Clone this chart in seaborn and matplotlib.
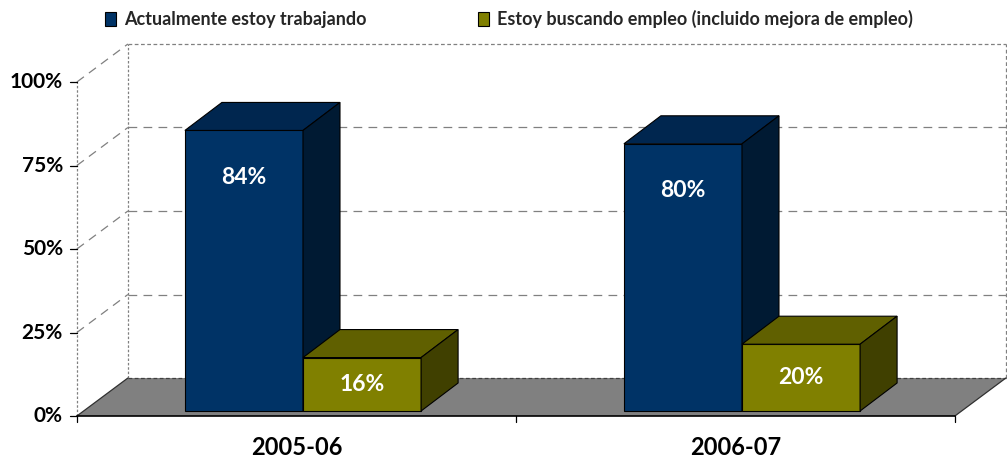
import numpy as np
import pandas as pd
import matplotlib
matplotlib.use('Agg')
import matplotlib.pyplot as plt
from matplotlib.patches import Polygon, Patch
import seaborn as sns

# data
periods = ['2005-06', '2006-07']
series_names = ['Actualmente estoy trabajando',
                'Estoy buscando empleo (incluido mejora de empleo)']
trabajando = [84, 80]
buscando = [16, 20]
y_ticks = [0, 25, 50, 75, 100]
y_tick_labels = ['0%', '25%', '50%', '75%', '100%']

front_colors = ['#003366', '#808000']
top_colors = ['#00264f', '#606000']
side_colors = ['#001a33', '#404000']

df = pd.DataFrame({
    'periodo': periods * 2,
    'serie': [series_names[0]] * 2 + [series_names[1]] * 2,
    'valor': trabajando + buscando,
})

sns.set_theme(style='white')
plt.rcParams['font.family'] = ['Lato', 'DejaVu Sans']
plt.rcParams['font.weight'] = 'bold'

W, H = 1007, 461
fig = plt.figure(figsize=(W / 100, H / 100), dpi=100)
ax = fig.add_axes([0, 0, 1, 1])

sns.barplot(data=df, x='periodo', y='valor', hue='serie', palette=front_colors,
            saturation=1, width=0.538, edgecolor='black', linewidth=0.8,
            legend=False, ax=ax)

# pixel geometry of the bar front plane
PX_X = 439.0     # px per category
PX_Y = 3.34      # px per percent
X0_PX, Y0_PX = 303.0, 411.0
ax.set_xlim(-X0_PX / PX_X, (W - X0_PX) / PX_X)
ax.set_ylim((Y0_PX - H) / PX_Y, Y0_PX / PX_Y)
ax.axis('off')


def px(dx, dy):
    # convert a pixel offset (right, up) into data units
    return dx / PX_X, dy / PX_Y


fx, fy = px(-6.6, -5)      # floor front edge relative to bar plane
bx, by = px(44.4, 33)      # back wall relative to bar plane
ddx, ddy = px(37, 28)      # bar depth

xl, xr = -0.5, 1.5
grid_kw = dict(color='#808080', lw=0.9, zorder=1.5)

# floor
floor = Polygon([(xl + fx, fy), (xr + fx, fy), (xr + bx, by), (xl + bx, by)],
                closed=True, facecolor='#808080', edgecolor='none', zorder=1)
ax.add_patch(floor)
ax.plot([xl + bx, xr + bx], [by, by], color='#404040', lw=0.9, ls=(0, (3, 2)), zorder=1.6)
ax.plot([xl + fx, xl + bx], [fy, by], color='#303030', lw=0.9, zorder=1.6)
ax.plot([xr + fx, xr + bx], [fy, by], color='#303030', lw=0.9, zorder=1.6)
ax.plot([xl + fx, xr + fx], [fy, fy], color='black', lw=1.2, zorder=10)

# back wall and left wall gridlines
for v in y_ticks[1:]:
    ls = (0, (3, 2)) if v == 100 else (0, (7, 5))
    ax.plot([xl + bx, xr + bx], [v + by, v + by], ls=ls, **grid_kw)
    ax.plot([xl + fx, xl + bx], [v + fy, v + by], ls=(0, (7, 5)), **grid_kw)
ax.plot([xr + bx, xr + bx], [by, 100 + by], ls=(0, (3, 2)), **grid_kw)
ax.plot([xl + bx, xl + bx], [by, 100 + by], ls=(0, (2, 1.5)), **grid_kw)
ax.plot([xl + fx, xl + fx], [fy, 100 + fy], ls=(0, (2, 1.5)), **grid_kw)

# y ticks and labels on the front left edge
tx, _ = px(7, 0)
for v, lab in zip(y_ticks, y_tick_labels):
    ax.plot([xl + fx - tx, xl + fx], [v + fy, v + fy], color='black', lw=0.9, zorder=10)
    ax.text(xl + fx - px(14, 0)[0], v + fy, lab, ha='right', va='center',
            fontsize=15, fontweight='bold', color='black')

# x ticks and category labels
_, tlen = px(0, 6)
for x in [xl, 0.5, xr]:
    ax.plot([x + fx, x + fx], [fy, fy - tlen], color='black', lw=0.9, zorder=10)
for i, lab in enumerate(periods):
    ax.text(i + fx, fy - px(0, 31)[1], lab, ha='center', va='center',
            fontsize=17, fontweight='bold', color='black')

# 3D faces for every bar, drawn left to right
bars = []
for k, cont in enumerate(ax.containers):
    for p in cont.patches:
        bars.append((p.get_x(), k, p))
bars.sort(key=lambda t: t[0])
for rank, (x0, k, p) in enumerate(bars):
    z = 3 + rank * 0.1
    w, h = p.get_width(), p.get_height()
    p.set_zorder(z)
    top = Polygon([(x0, h), (x0 + w, h), (x0 + w + ddx, h + ddy), (x0 + ddx, h + ddy)],
                  closed=True, facecolor=top_colors[k], edgecolor='black', lw=0.8, zorder=z)
    side = Polygon([(x0 + w, 0), (x0 + w + ddx, ddy), (x0 + w + ddx, h + ddy), (x0 + w, h)],
                   closed=True, facecolor=side_colors[k], edgecolor='black', lw=0.8, zorder=z)
    ax.add_patch(top)
    ax.add_patch(side)
    ax.text(x0 + w / 2, max(h / 2, h - 14), f'{h:.0f}%', ha='center', va='center',
            color='white', fontsize=16.5, fontweight='bold', zorder=z + 0.05)

handles = [Patch(facecolor=c, edgecolor='black', lw=0.8) for c in front_colors]
fig.legend(handles, series_names, loc='center left', bbox_to_anchor=(105 / W, 1 - 19 / H),
           ncol=2, frameon=False, fontsize=13, handlelength=0.6, handleheight=0.85,
           handletextpad=0.45, columnspacing=6.2, borderaxespad=0, borderpad=0)

fig.savefig('out.png', dpi=100)
